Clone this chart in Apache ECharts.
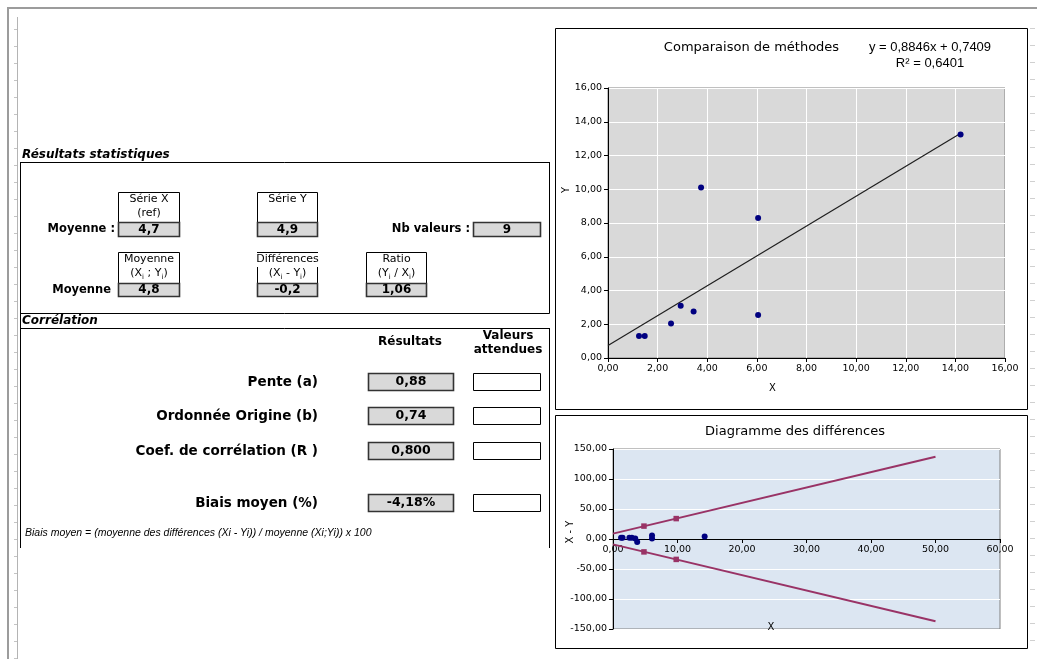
<!DOCTYPE html>
<html><head><meta charset="utf-8">
<script src="https://cdn.jsdelivr.net/npm/echarts/dist/echarts.min.js"></script>
<style>html,body{margin:0;padding:0;background:#fff;}#c{width:1037px;height:659px;}</style>
</head><body><div id="c"></div>
<script>
// ---- data ----
const serieX = [1.25, 1.48, 2.54, 2.93, 3.45, 3.75, 6.05, 6.05, 14.21];
const serieY = [1.3, 1.3, 2.05, 3.1, 2.75, 10.1, 8.3, 2.55, 13.25];
const diffXY = [2, 2, 2, 2, 1, -5, 1, 6, 4];
const trendX = [0, 14.25];
const trendY = [0.74, 13.35];
const limitX = [0, 50];
const upperY = [9, 137];
const lowerY = [-9, -137];
const markX = [4.8, 9.8];
const upperMarkY = [21.5, 34];
const lowerMarkY = [-21.5, -34];

const titleScatter = 'Comparaison de méthodes';
const equationLines = ['y = 0,8846x + 0,7409', 'R² = 0,6401'];
const titleDiff = 'Diagramme des différences';

const statTitle = 'Résultats statistiques';
const corrTitle = 'Corrélation';
const statHeads = [['Série X', '(ref)'], ['Série Y', ''], ['Moyenne', '(X{s|i} ; Y{s|i})'], ['Différences', '(X{s|i} - Y{s|i})'], ['Ratio', '(Y{s|i} / X{s|i})']];
const statValues = ['4,7', '4,9', '4,8', '-0,2', '1,06'];
const rowLabels = ['Moyenne :', 'Moyenne'];
const nbLabel = 'Nb valeurs :';
const nbValue = '9';
const corrHeads = ['Résultats', 'Valeurs', 'attendues'];
const corrLabels = ['Pente (a)', 'Ordonnée Origine (b)', 'Coef. de corrélation (R )', 'Biais moyen (%)'];
const corrValues = ['0,88', '0,74', '0,800', '-4,18%'];
const footnote = 'Biais moyen = (moyenne des différences (Xi - Yi)) / moyenne (Xi;Yi)) x 100';

// ---- drawing helpers ----
const F = '"DejaVu Sans", Verdana, sans-serif';
const G = [];
function txt(x, y, text, font, align, extra) {
  G.push(Object.assign({ type: 'text', x: x, y: y, z: 50,
    style: { text: text, font: font, fill: '#000', align: align || 'left', verticalAlign: 'middle' } }, extra || {}));
}
function rect(x, y, w, h, fill, stroke, lw) {
  G.push({ type: 'rect', z: 10, shape: { x: x, y: y, width: w, height: h },
    style: { fill: fill || 'none', stroke: stroke || '#000', lineWidth: lw || 1 } });
}
function line(x1, y1, x2, y2, stroke, lw) {
  G.push({ type: 'line', z: 10, shape: { x1: x1, y1: y1, x2: x2, y2: y2 },
    style: { stroke: stroke || '#000', lineWidth: lw || 1 } });
}

// window frame
line(7, 8, 1037, 8, '#9c9c9c', 2);
line(8, 8, 8, 659, '#9c9c9c', 2);
line(17.5, 17, 17.5, 659, '#b4b4b4', 1);
for (let y = 29.5; y < 659; y += 17) line(14, y, 17, y, '#c4c4c4', 1);
for (let y = 28.5; y < 650; y += 17) line(1030, y, 1035, y, '#d0d0d0', 1);

// left panel frames
txt(22, 155, statTitle, 'italic bold 12px ' + F);
line(20, 162.5, 549.5, 162.5);
line(549.5, 162, 549.5, 313.5);
line(20, 313.5, 549.5, 313.5);
line(20.5, 162, 20.5, 548);
txt(22, 321, corrTitle, 'italic bold 12px ' + F);
line(20, 328.5, 549.5, 328.5);
line(549.5, 328, 549.5, 548);

// stat boxes
const boxPos = [[118, 62, 0], [257, 61, 0], [118, 62, 1], [257, 61, 1], [366, 61, 1]];
const rowTop = [192, 252], rowDiv = [222, 283], rowBot = [237, 297];
const subRich = { s: { fontSize: 7, verticalAlign: 'bottom', lineHeight: 8, fontFamily: 'DejaVu Sans' } };
boxPos.forEach(function (b, i) {
  const x = b[0], w = b[1], r = b[2];
  if (i === 3) {
    line(x, rowTop[r] + 0.5, x + w, rowTop[r] + 0.5);
    line(x + 0.5, rowTop[r] + 15, x + 0.5, rowDiv[r]);
    line(x + w - 0.5, rowTop[r] + 15, x + w - 0.5, rowDiv[r]);
  } else {
    rect(x + 0.5, rowTop[r] + 0.5, w - 1, rowDiv[r] - rowTop[r], '#fff', '#000', 1);
  }
  rect(x + 0.5, rowDiv[r] + 0.5, w - 1, rowBot[r] - rowDiv[r] - 1, '#d9d9d9', '#333', 1.6);
  const cx = x + w / 2;
  txt(cx, rowTop[r] + 7.5, statHeads[i][0], '11px ' + F, 'center');
  if (statHeads[i][1]) {
    G.push({ type: 'text', x: cx, y: rowTop[r] + 21.5, z: 50,
      style: { text: statHeads[i][1], font: '11px ' + F, fill: '#000', align: 'center', verticalAlign: 'middle', lineHeight: 14, rich: subRich } });
  }
  txt(cx, (rowDiv[r] + rowBot[r]) / 2, statValues[i], 'bold 12px ' + F, 'center');
});
txt(115, 229.5, rowLabels[0], 'bold 11.5px ' + F, 'right');
txt(111, 290, rowLabels[1], 'bold 11.5px ' + F, 'right');
txt(470, 229.5, nbLabel, 'bold 11.5px ' + F, 'right');
rect(473.5, 222.5, 67, 14, '#d9d9d9', '#333', 1.6);
txt(507, 229.5, nbValue, 'bold 12px ' + F, 'center');

// correlation block
txt(410, 342, corrHeads[0], 'bold 12px ' + F, 'center');
txt(508, 336, corrHeads[1], 'bold 12px ' + F, 'center');
txt(508, 350, corrHeads[2], 'bold 12px ' + F, 'center');
const rowY = [382, 416, 451, 503];
corrLabels.forEach(function (lab, i) {
  const y = rowY[i];
  txt(318, y, lab, 'bold 13.5px ' + F, 'right');
  rect(368.5, y - 8.5, 85, 17, '#d9d9d9', '#333', 1.6);
  txt(411, y, corrValues[i], 'bold 12.5px ' + F, 'center');
  rect(473.5, y - 8.5, 67, 17, '#fff', '#000', 1);
});
txt(25, 533, footnote, 'italic 10.5px "Liberation Sans", Arial, sans-serif');

// chart frames and texts
rect(555.5, 28.5, 472, 381, 'none', '#000', 1);
rect(555.5, 415.5, 472, 233, 'none', '#000', 1);
txt(751.5, 48, titleScatter, '13px ' + F, 'center');
txt(930, 47, equationLines[0], '13px "Liberation Sans", Arial, sans-serif', 'center');
txt(930, 63, equationLines[1], '13px "Liberation Sans", Arial, sans-serif', 'center');
txt(566, 190, 'Y', '10px ' + F, 'center', { rotation: Math.PI / 2 });
txt(772.5, 388, 'X', '10px ' + F, 'center');
txt(795, 432, titleDiff, '13px ' + F, 'center');
txt(570, 532, 'X - Y', '10px ' + F, 'center', { rotation: Math.PI / 2 });
txt(771, 627, 'X', '10px ' + F, 'center');

// ---- chart ----
const fmt = function (v) { return v.toFixed(2).replace('.', ','); };
const axisBase = function (gi, min, max, interval, split) {
  return {
    type: 'value', gridIndex: gi, min: min, max: max, interval: interval,
    axisLine: { show: true, onZero: false, lineStyle: { color: '#000', width: 1 } },
    axisTick: { show: true, length: 4, lineStyle: { color: '#000' } },
    axisLabel: { fontSize: 9.5, fontFamily: 'DejaVu Sans', color: '#000', margin: 6, formatter: fmt },
    splitLine: { show: split, lineStyle: { color: '#ffffff', width: 1 } }
  };
};
const pairs = function (xs, ys) { return xs.map(function (x, i) { return [x, ys[i]]; }); };

const diffX = axisBase(1, 0, 60, 10, false);
diffX.offset = -90; // Excel draws this axis where Y = 0

const chart = echarts.init(document.getElementById('c'), null, { renderer: 'canvas' });
chart.setOption({
  animation: false,
  backgroundColor: '#ffffff',
  grid: [
    { left: 608, top: 88, width: 397, height: 270, show: true, backgroundColor: '#d9d9d9', borderColor: '#808080', borderWidth: 1, containLabel: false, outerBoundsMode: 'none' },
    { left: 613, top: 449, width: 387, height: 180, show: true, backgroundColor: '#dce6f2', borderColor: '#808080', borderWidth: 1, containLabel: false, outerBoundsMode: 'none' }
  ],
  xAxis: [axisBase(0, 0, 16, 2, true), diffX],
  yAxis: [axisBase(0, 0, 16, 2, true), axisBase(1, -150, 150, 50, true)],
  graphic: { elements: G },
  series: [
    { type: 'line', xAxisIndex: 0, yAxisIndex: 0, data: pairs(trendX, trendY), symbol: 'none',
      lineStyle: { color: '#1e1e1e', width: 1.2 }, silent: true, z: 3 },
    { type: 'scatter', xAxisIndex: 0, yAxisIndex: 0, data: pairs(serieX, serieY), symbolSize: 6,
      itemStyle: { color: '#000080', opacity: 1 }, z: 4 },
    { type: 'line', xAxisIndex: 1, yAxisIndex: 1, data: pairs(limitX, upperY), symbol: 'none',
      lineStyle: { color: '#993366', width: 2 }, z: 3 },
    { type: 'line', xAxisIndex: 1, yAxisIndex: 1, data: pairs(limitX, lowerY), symbol: 'none',
      lineStyle: { color: '#993366', width: 2 }, z: 3 },
    { type: 'scatter', xAxisIndex: 1, yAxisIndex: 1, data: pairs(markX, upperMarkY).concat(pairs(markX, lowerMarkY)),
      symbol: 'rect', symbolSize: 5.5, itemStyle: { color: '#993366', opacity: 1 }, z: 4 },
    { type: 'scatter', xAxisIndex: 1, yAxisIndex: 1, data: pairs(serieX, diffXY), symbolSize: 6,
      itemStyle: { color: '#000080', opacity: 1 }, z: 5 }
  ]
});
</script>
</body></html>
